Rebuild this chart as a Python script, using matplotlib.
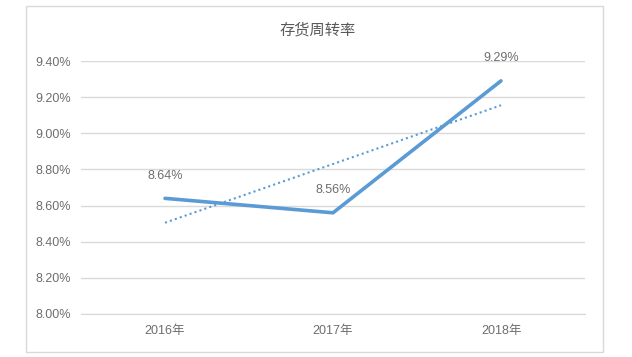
import numpy as np
import matplotlib.pyplot as plt
from matplotlib.patches import Rectangle
from matplotlib.ticker import FuncFormatter

plt.rcParams['font.family'] = ['Liberation Sans', 'Noto Sans CJK SC', 'DejaVu Sans']

# data
years = ['2016年', '2017年', '2018年']
turnover = [8.64, 8.56, 9.29]   # %
title = '存货周转率'

x = np.arange(len(years))
# linear trendline (Excel style)
k, b = np.polyfit(x, turnover, 1)
trend = k * x + b

line_color = '#5b9bd5'
text_color = '#6e6e6e'
grid_color = '#d9d9d9'

fig = plt.figure(figsize=(6.32, 3.57), dpi=100)
ax = fig.add_axes([81 / 632, 1 - 314 / 357, 504 / 632, 253 / 357])

# outer chart frame
fig.patches.append(Rectangle((26 / 632, 1 - 352 / 357), 577 / 632, 346 / 357,
                             transform=fig.transFigure, fill=False,
                             edgecolor=grid_color, linewidth=1))

ax.plot(x, turnover, color=line_color, linewidth=2.6, solid_capstyle='round', zorder=3)
ax.plot(x, trend, color=line_color, linewidth=1.5, linestyle=(0, (1, 1.5)), zorder=2)

for xi, v in zip(x, turnover):
    ax.annotate(f'{v:.2f}%', (xi, v), xytext=(0, 12), textcoords='offset points',
                ha='center', va='bottom', fontsize=9, color=text_color)

ax.set_xlim(-0.5, 2.5)
ax.set_ylim(8.0, 9.4)
ax.set_yticks(np.arange(8.0, 9.41, 0.2))
ax.yaxis.set_major_formatter(FuncFormatter(lambda v, p: f'{v:.2f}%'))
ax.set_xticks(x)
ax.set_xticklabels(years)

ax.grid(axis='y', color=grid_color, linewidth=1)
ax.set_axisbelow(True)
for s in ['top', 'right', 'left']:
    ax.spines[s].set_visible(False)
ax.spines['bottom'].set_color(grid_color)
ax.tick_params(length=0, labelsize=9, colors=text_color)
ax.tick_params(axis='y', pad=7)
ax.tick_params(axis='x', pad=8)

fig.text(318 / 632, 1 - 30 / 357, title, ha='center', va='center',
         fontsize=11, color='#595959')

fig.savefig('out.png', dpi=100)
